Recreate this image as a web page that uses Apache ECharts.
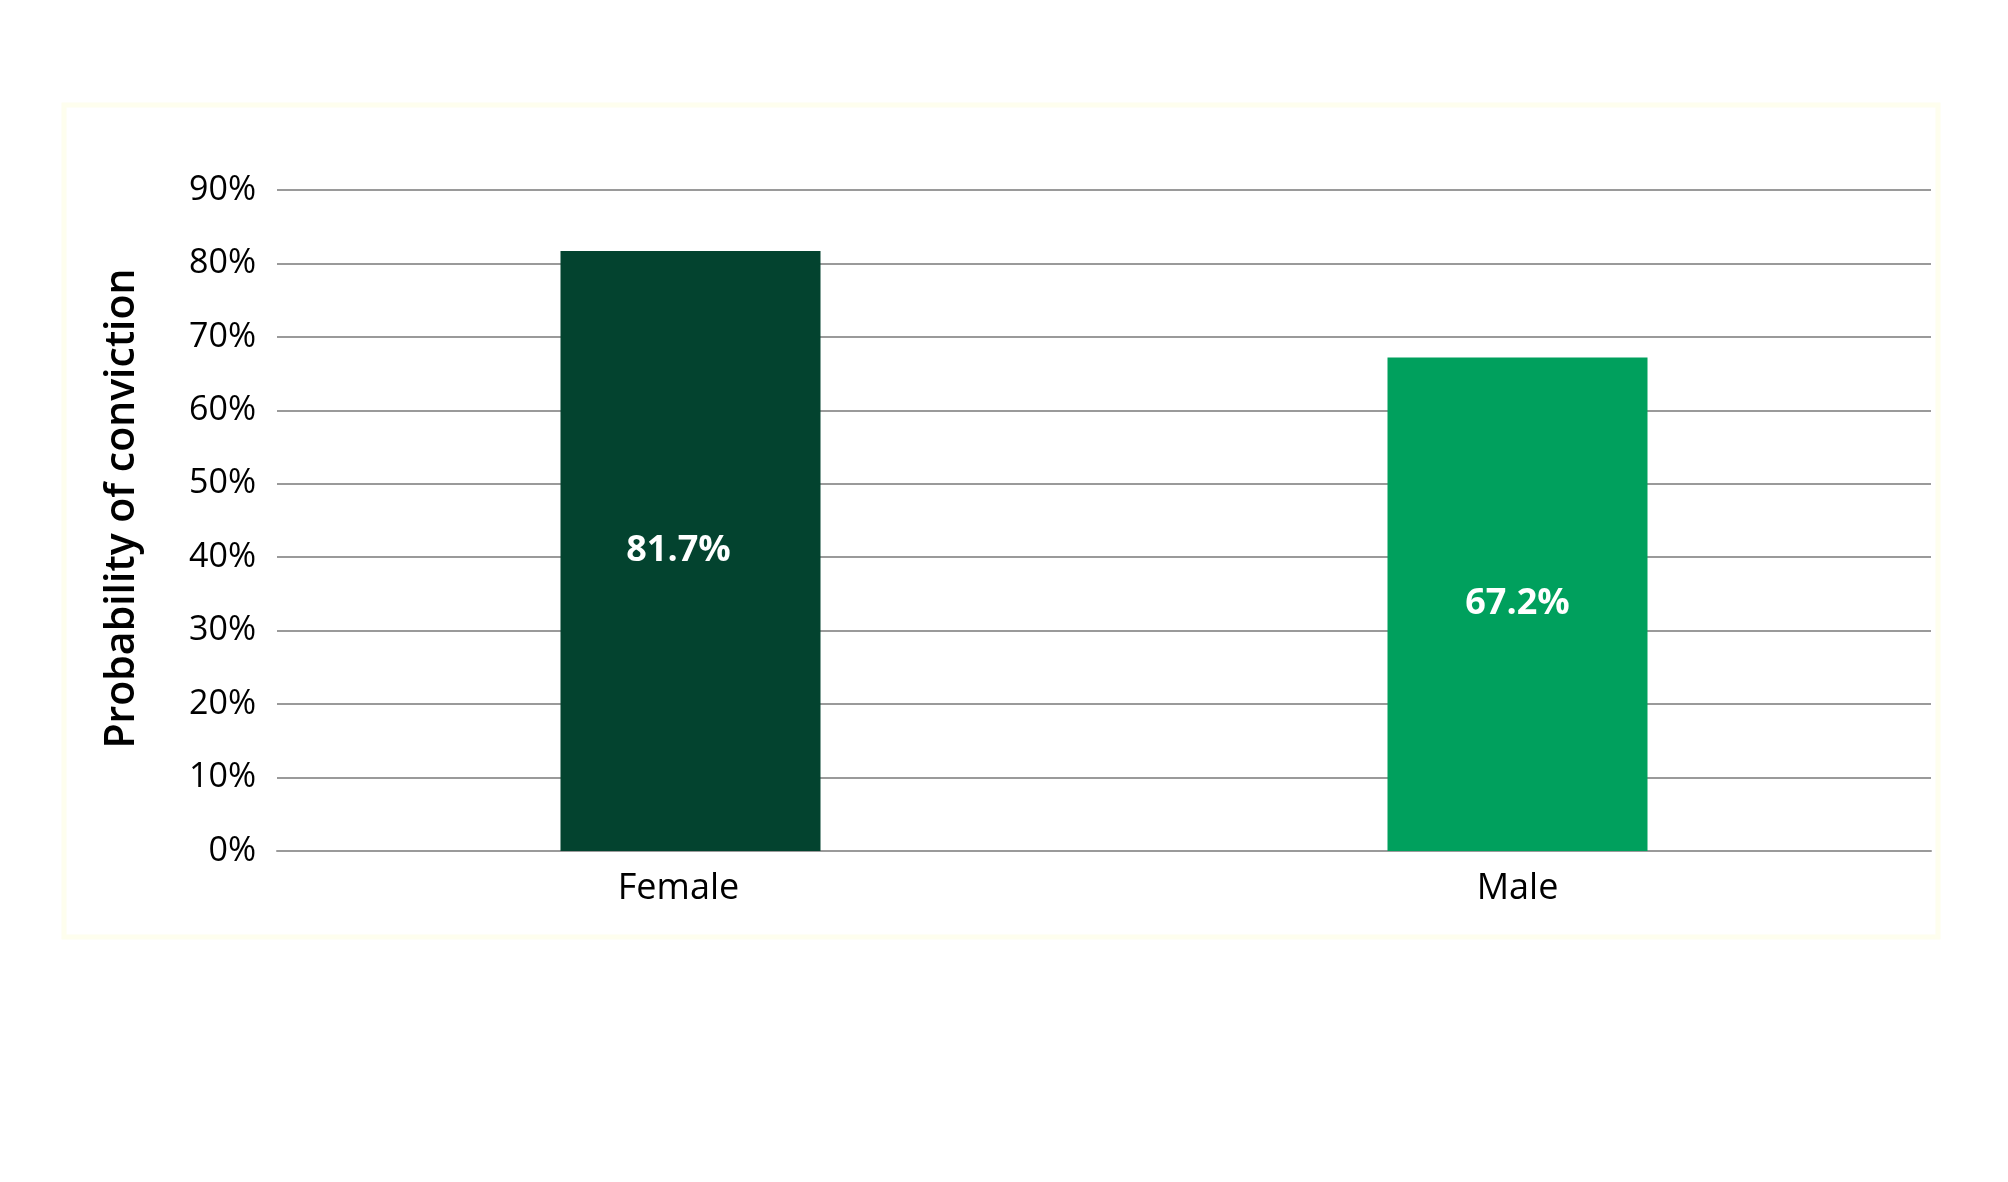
<!DOCTYPE html>
<html>
<head>
<meta charset="utf-8">
<script src="https://cdn.jsdelivr.net/npm/echarts@6/dist/echarts.min.js"></script>
<style>
  html, body { margin: 0; padding: 0; background: #fff; }
  #chart { width: 2008px; height: 1182px; }
</style>
</head>
<body>
<div id="chart"></div>
<script>
// data
var categories = ["Female", "Male"];
var values = [81.7, 67.2];
var barColors = ["#03432f", "#00a05d"];
var yTicks = [0, 10, 20, 30, 40, 50, 60, 70, 80, 90];

var myChart = echarts.init(document.getElementById("chart"));

// the first category's texts sit a little left of its bar in the original
var labelShift = [-12, 0];

var option = {
  backgroundColor: "#ffffff",
  animation: false,
  textStyle: { fontFamily: "Open Sans" },
  graphic: [
    {
      // faint panel border
      type: "rect",
      shape: { x: 64, y: 105, width: 1874, height: 832 },
      style: { fill: "none", stroke: "#fefeee", lineWidth: 5 },
      silent: true,
    },
  ],
  grid: {
    left: 277,
    right: 77,
    top: 190,
    bottom: 331,
  },
  xAxis: {
    type: "category",
    data: categories.map(function (c, i) {
      var pad = labelShift[i] < 0 ? [0, -2 * labelShift[i], 0, 0] : [0, 0, 0, 0];
      return { value: c, textStyle: { padding: pad } };
    }),
    axisTick: { show: false },
    axisLine: { lineStyle: { color: "#9a9a9a", width: 2 } },
    axisLabel: {
      color: "#000",
      fontSize: 36,
      fontFamily: "Open Sans",
      margin: 20,
    },
  },
  yAxis: {
    type: "value",
    min: yTicks[0],
    max: yTicks[yTicks.length - 1],
    interval: 10,
    name: "Probability of conviction",
    nameLocation: "middle",
    nameGap: 134,
    nameRotate: 90,
    nameTextStyle: {
      color: "#000",
      fontSize: 41,
      fontWeight: 600,
      fontFamily: "Open Sans",
      padding: [0, 0, 0, 24],
    },
    axisLine: { show: false },
    axisTick: { show: false },
    splitLine: { lineStyle: { color: "#9a9a9a", width: 2 } },
    axisLabel: {
      color: "#000",
      fontSize: 34,
      fontFamily: "Open Sans",
      margin: 21,
      formatter: function (v) {
        return v + "%";
      },
    },
  },
  series: [
    {
      type: "bar",
      barWidth: 260,
      data: values.map(function (v, i) {
        return {
          value: v,
          itemStyle: { color: barColors[i] },
          label: { offset: [labelShift[i], 0] },
        };
      }),
      label: {
        show: true,
        position: "inside",
        color: "#fff",
        fontSize: 36,
        fontWeight: "bold",
        fontFamily: "Open Sans",
        formatter: function (p) {
          return p.value.toFixed(1) + "%";
        },
      },
    },
  ],
};

myChart.setOption(option);
</script>
</body>
</html>
